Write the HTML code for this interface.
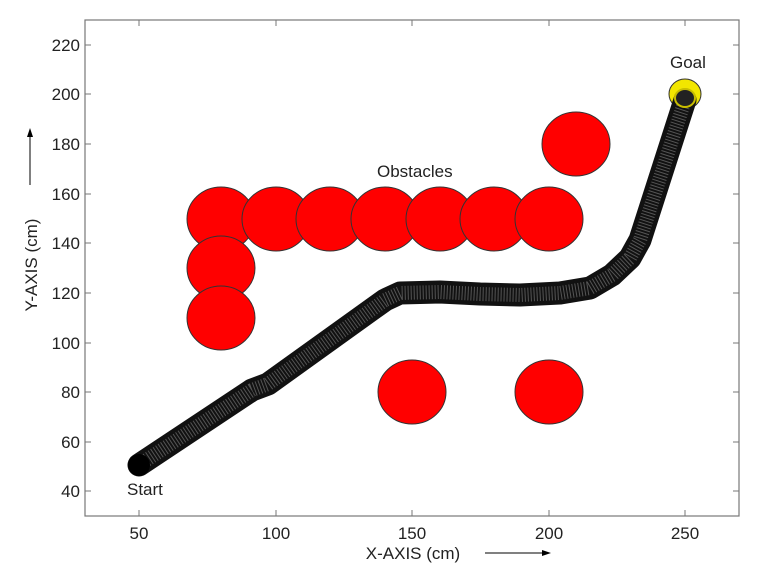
<!DOCTYPE html>
<html><head><style>body{margin:0;background:#fff}svg{display:block;font-family:"Liberation Sans",sans-serif}</style></head><body>
<svg width="761" height="584" viewBox="0 0 761 584">
<rect x="85" y="20" width="654" height="496" fill="#fff" stroke="#777" stroke-width="1.2"/>
<g stroke="#777" stroke-width="1">
<path d="M139 516v-6M276 516v-6M412 516v-6M549 516v-6M685 516v-6M139 20v6M276 20v6M412 20v6M549 20v6M685 20v6"/>
<path d="M85 491h6M85 442h6M85 392h6M85 343h6M85 293h6M85 243h6M85 194h6M85 144h6M85 94h6M85 45h6"/>
<path d="M739 491h-6M739 442h-6M739 392h-6M739 343h-6M739 293h-6M739 243h-6M739 194h-6M739 144h-6M739 94h-6M739 45h-6"/>
</g>
<g font-size="17" fill="#222" text-anchor="middle">
<text x="139" y="539">50</text><text x="276" y="539">100</text><text x="412" y="539">150</text><text x="549" y="539">200</text><text x="685" y="539">250</text>
</g>
<g font-size="17" fill="#222" text-anchor="end">
<text x="80" y="497">40</text><text x="80" y="448">60</text><text x="80" y="398">80</text><text x="80" y="349">100</text><text x="80" y="299">120</text><text x="80" y="249">140</text><text x="80" y="200">160</text><text x="80" y="150">180</text><text x="80" y="100">200</text><text x="80" y="51">220</text>
</g>
<text x="413" y="559" font-size="17" text-anchor="middle" fill="#222">X-AXIS (cm)</text>
<path d="M485 553h60" stroke="#000" stroke-width="1"/><path d="M551 553l-9-3v6z" fill="#000"/>
<text transform="translate(37,265) rotate(-90)" font-size="17" text-anchor="middle" fill="#222">Y-AXIS (cm)</text>
<path d="M30 185v-50" stroke="#000" stroke-width="1"/><path d="M30 128l-3 9h6z" fill="#000"/>
<g fill="#f00" stroke="#333" stroke-width="1">
<ellipse cx="221" cy="219" rx="34" ry="32"/>
<ellipse cx="221" cy="268" rx="34" ry="32"/>
<ellipse cx="221" cy="318" rx="34" ry="32"/>
<ellipse cx="276" cy="219" rx="34" ry="32"/>
<ellipse cx="330" cy="219" rx="34" ry="32"/>
<ellipse cx="385" cy="219" rx="34" ry="32"/>
<ellipse cx="440" cy="219" rx="34" ry="32"/>
<ellipse cx="494" cy="219" rx="34" ry="32"/>
<ellipse cx="549" cy="219" rx="34" ry="32"/>
<ellipse cx="576" cy="144" rx="34" ry="32"/>
<ellipse cx="412" cy="392" rx="34" ry="32"/>
<ellipse cx="549" cy="392" rx="34" ry="32"/>
</g>
<ellipse cx="685" cy="94" rx="16" ry="15" fill="#f2e600" stroke="#333"/>
<path d="M139 465 L252 390 L268 384 L385 300 L400 293 L440 292 L480 294 L520 295 L560 293 L590 288 L612 275 L630 258 L640 240 L685 100" fill="none" stroke="#111" stroke-width="23" stroke-linejoin="round" stroke-linecap="round"/>
<path d="M139 465 L252 390 L268 384 L385 300 L400 293 L440 292 L480 294 L520 295 L560 293 L590 288 L612 275 L630 258 L640 240 L685 100" fill="none" stroke="#555" stroke-width="14" stroke-dasharray="1 2" stroke-linejoin="round"/>
<circle cx="139" cy="465" r="11" fill="#000"/>
<ellipse cx="685" cy="98" rx="10" ry="9" fill="#222" stroke="#c8bd00" stroke-width="2"/>
<g font-size="17" fill="#222">
<text x="670" y="68">Goal</text>
<text x="377" y="177">Obstacles</text>
<text x="127" y="495">Start</text>
</g>
</svg>
</body></html>
